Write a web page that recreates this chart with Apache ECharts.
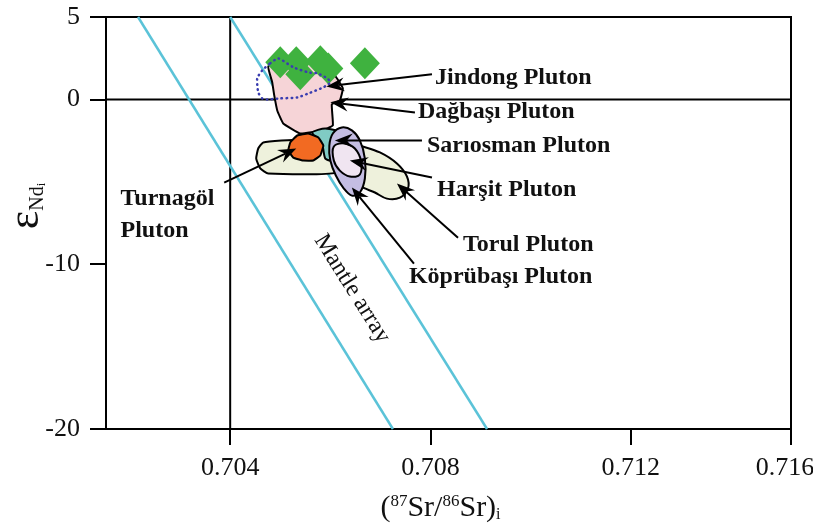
<!DOCTYPE html>
<html><head><meta charset="utf-8">
<script src="https://cdn.jsdelivr.net/npm/echarts@6.0.0/dist/echarts.min.js"></script>
<style>html,body{margin:0;padding:0;background:#fff}#chart{width:813px;height:532px}</style>
</head><body><div id="chart"></div>
<script>
const FONT = '"Liberation Serif","Times New Roman",serif';

// Axis ticks
const xTicks = [0.704, 0.708, 0.712, 0.716];
const yTicks = [5, 0, -10, -20];
const xMin = 0.70152, xMax = 0.716;

// Mantle array boundaries [87Sr/86Sr, eNd]
const mantleLow = [[0.70216, 5], [0.70725, -20]];
const mantleHigh = [[0.70400, 5], [0.70913, -20]];

// Jindong Pluton samples
const jindongSr = [0.70500, 0.70532, 0.70540, 0.70580, 0.70596, 0.70669];
const jindongNd = [2.25, 2.25, 1.52, 2.31, 1.88, 2.19];

// Pluton fields (outlines in 87Sr/86Sr, eNd)
const harsitBar = [[0.70456,-2.98],[0.70466,-2.61],[0.70540,-2.43],[0.70584,-2.49],[0.70611,-2.98],[0.70611,-4.44],[0.70476,-4.50],[0.70460,-4.19],[0.70452,-3.59]];
const harsitLobe = [[0.70629,-2.49],[0.70659,-2.80],[0.70699,-3.22],[0.70733,-3.89],[0.70753,-4.68],[0.70755,-5.41],[0.70739,-5.96],[0.70713,-6.02],[0.70689,-5.65],[0.70659,-5.23],[0.70635,-4.32]];
const dagbasiField = [[0.70476,2.01],[0.70520,2.49],[0.70576,2.25],[0.70609,1.46],[0.70625,0.67],[0.70619,-0.06],[0.70603,-0.30],[0.70605,-1.58],[0.70584,-1.88],[0.70540,-2.07],[0.70506,-1.46],[0.70494,-0.67],[0.70488,0.24],[0.70484,1.03]];
const sariosmanField = [[0.70564,-2.01],[0.70590,-1.76],[0.70629,-2.07],[0.70655,-3.10],[0.70669,-4.62],[0.70643,-4.80],[0.70609,-3.83],[0.70590,-3.59],[0.70584,-2.80]];
const turnagolField = [[0.70520,-2.61],[0.70534,-2.19],[0.70556,-2.07],[0.70576,-2.31],[0.70586,-2.80],[0.70580,-3.40],[0.70566,-3.71],[0.70546,-3.71],[0.70526,-3.53],[0.70516,-3.10]];
const koprubasiField = [[0.70605,-2.07],[0.70623,-1.70],[0.70643,-1.88],[0.70659,-2.49],[0.70669,-3.59],[0.70669,-4.80],[0.70659,-5.65],[0.70643,-5.84],[0.70627,-5.41],[0.70611,-4.62],[0.70600,-3.71],[0.70598,-2.80]];
const torulField = [[0.70607,-2.86],[0.70629,-2.67],[0.70649,-2.98],[0.70661,-3.71],[0.70659,-4.56],[0.70639,-4.68],[0.70619,-4.32],[0.70607,-3.71]];
const jindongField = [[0.70480,2.19],[0.70496,2.49],[0.70526,1.95],[0.70556,1.64],[0.70574,1.58],[0.70594,1.28],[0.70600,1.03],[0.70586,0.73],[0.70556,0.36],[0.70534,0.12],[0.70500,0.06],[0.70474,0.00],[0.70464,0.06],[0.70456,0.43],[0.70454,1.28],[0.70464,1.76]];

// Labels and their leader arrows: [fromX, fromY, toX, toY]
const labelNames = ['Jindong Pluton', 'Dağbaşı Pluton', 'Sarıosman Pluton', 'Harşit Pluton', 'Torul Pluton', 'Köprübaşı Pluton', 'Turnagöl\nPluton'];
const labelAt = [[0.70809,1.34],[0.70775,-0.73],[0.70793,-2.80],[0.70813,-5.47],[0.70865,-8.81],[0.70757,-10.76],[0.70181,-6.99]];
const arrows = [
  [0.70803,1.52,0.70592,0.79],
  [0.70769,-0.79,0.70600,-0.18],
  [0.70783,-2.49,0.70609,-2.49],
  [0.70803,-4.74,0.70639,-3.71],
  [0.70855,-8.39,0.70733,-5.11],
  [0.70767,-9.97,0.70643,-5.35],
  [0.70388,-5.05,0.70532,-2.98]
];
const mantleLabel = 'Mantle array';
const mantleLabelAt = [0.706434, -11.49];

function field(name, pts, fill, opts) {
  opts = opts || {};
  return {
    type: 'custom', name: name, coordinateSystem: 'cartesian2d', silent: true,
    z: opts.z || 3,
    data: [pts[0]],
    renderItem: function (params, api) {
      return {
        type: 'polygon',
        shape: { points: pts.map(function (p) { return api.coord(p); }), smooth: opts.smooth || 0 },
        style: {
          fill: fill,
          stroke: opts.stroke || '#000',
          lineWidth: opts.lineWidth || 2,
          lineDash: opts.dash || null,
          lineCap: opts.dash ? 'round' : 'butt'
        }
      };
    }
  };
}

const chart = echarts.init(document.getElementById('chart'));
chart.setOption({
  animation: false,
  backgroundColor: '#fff',
  grid: {
    left: 106, right: 22, top: 17, bottom: 103,
    outerBoundsMode: 'none', containLabel: false,
    show: true, borderColor: '#000', borderWidth: 2, backgroundColor: 'transparent'
  },
  xAxis: {
    type: 'value', min: xMin, max: xMax,
    breaks: [{ start: 0.7132, end: 0.7140, gap: 0 }],
    breakArea: { show: false },
    axisLine: { show: true, onZero: false, lineStyle: { color: '#000', width: 2 } },
    axisTick: { show: true, inside: false, length: 16, lineStyle: { color: '#000', width: 2 }, customValues: xTicks },
    axisLabel: {
      customValues: xTicks, margin: 26, color: '#111', fontSize: 26, fontFamily: FONT,
      formatter: function (v) {
        const s = v.toFixed(3);
        return v >= xMax - 1e-6 ? '{end|' + s + '}' : s;
      },
      rich: { end: { fontSize: 26, fontFamily: FONT, color: '#111', padding: [0, 12, 0, 0] } }
    },
    splitLine: { show: false },
    name: '{p|(}{sup|87}{p|Sr/}{sup|86}{p|Sr)}{sub|i}',
    nameLocation: 'middle', nameGap: 64, nameMoveOverlap: false,
    nameTextStyle: {
      padding: [0, 16, 0, 0],
      rich: {
        p: { fontSize: 30, fontFamily: FONT, color: '#111' },
        sup: { fontSize: 17, fontFamily: FONT, color: '#111', verticalAlign: 'top' },
        sub: { fontSize: 16, fontFamily: FONT, color: '#111', verticalAlign: 'bottom' }
      }
    }
  },
  yAxis: {
    type: 'value', min: -20, max: 5,
    axisLine: { show: true, onZero: false, lineStyle: { color: '#000', width: 2 } },
    axisTick: { show: true, inside: false, length: 16, lineStyle: { color: '#000', width: 2 }, customValues: yTicks },
    axisLabel: { customValues: yTicks, margin: 26, color: '#111', fontSize: 26, fontFamily: FONT },
    splitLine: { show: false },
    name: '{e|ε}{n|Nd}{i|i}',
    nameLocation: 'middle', nameGap: 58, nameMoveOverlap: false,
    nameTextStyle: {
      padding: [0, 0, 0, 34],
      rich: {
        e: { fontSize: 44, fontFamily: FONT, color: '#111' },
        n: { fontSize: 20, fontFamily: FONT, color: '#111', verticalAlign: 'bottom' },
        i: { fontSize: 13, fontFamily: FONT, color: '#111', verticalAlign: 'bottom' }
      }
    }
  },
  series: [
    {
      type: 'line', name: 'ref-x', data: [[0.704, -20], [0.704, 5]], symbol: 'none', z: 1,
      lineStyle: { color: '#000', width: 2 }, silent: true
    },
    {
      type: 'line', name: 'ref-y', data: [[xMin, 0], [xMax, 0]], symbol: 'none', z: 1,
      lineStyle: { color: '#000', width: 2 }, silent: true
    },
    {
      type: 'line', name: 'mantle-low', data: mantleLow, symbol: 'none', z: 2,
      lineStyle: { color: '#5bc3d8', width: 2.5 }, silent: true
    },
    {
      type: 'line', name: 'mantle-high', data: mantleHigh, symbol: 'none', z: 2,
      lineStyle: { color: '#5bc3d8', width: 2.5 }, silent: true
    },
    field('Harşit', harsitBar, '#eef1dc', { z: 3, smooth: 0.15 }),
    field('Harşit lobe', harsitLobe, '#eef1dc', { z: 3, smooth: 0.35 }),
    field('Dağbaşı', dagbasiField, '#f6d4d7', { z: 4, smooth: 0.1 }),
    field('Sarıosman', sariosmanField, '#80cbc4', { z: 5, smooth: 0.2 }),
    field('Turnagöl', turnagolField, '#f26a22', { z: 6, smooth: 0.1 }),
    field('Köprübaşı', koprubasiField, '#c4bde2', { z: 7, smooth: 0.35 }),
    field('Torul', torulField, '#f0e5f1', { z: 8, smooth: 0.35 }),
    {
      type: 'scatter', name: 'Jindong', z: 9, silent: true,
      data: jindongSr.map(function (x, i) { return [x, jindongNd[i]]; }),
      symbol: 'diamond', symbolSize: [30, 32],
      itemStyle: { color: '#3fb23f', opacity: 1 }
    },
    field('Jindong field', jindongField, 'none', { z: 10, stroke: '#3a3db0', lineWidth: 2.5, dash: [0.5, 4.5], smooth: 0.2 }),
    {
      type: 'custom', name: 'arrows', z: 11, silent: true,
      data: arrows, encode: { x: [0, 2], y: [1, 3] },
      renderItem: function (params, api) {
        const a = api.coord([api.value(0), api.value(1)]);
        const b = api.coord([api.value(2), api.value(3)]);
        const dx = b[0] - a[0], dy = b[1] - a[1];
        const len = Math.hypot(dx, dy), ux = dx / len, uy = dy / len;
        const L = 18, W = 7, N = 6;
        const bx = b[0] - ux * L, by = b[1] - uy * L;
        const nx = b[0] - ux * (L - N), ny = b[1] - uy * (L - N);
        return {
          type: 'group',
          children: [
            { type: 'line', shape: { x1: a[0], y1: a[1], x2: nx, y2: ny }, style: { stroke: '#000', lineWidth: 2 } },
            { type: 'polygon', shape: { points: [[b[0], b[1]], [bx - uy * W, by + ux * W], [nx, ny], [bx + uy * W, by - ux * W]] }, style: { fill: '#000' } }
          ]
        };
      }
    },
    {
      type: 'custom', name: 'labels', z: 12, silent: true,
      data: labelAt,
      renderItem: function (params, api) {
        const p = api.coord([api.value(0), api.value(1)]);
        return {
          type: 'text', x: p[0], y: p[1],
          style: {
            text: labelNames[params.dataIndex], fill: '#111',
            fontFamily: FONT, fontSize: 24, fontWeight: 'bold', lineHeight: 32,
            align: 'left', verticalAlign: 'middle'
          }
        };
      }
    },
    {
      type: 'custom', name: 'mantle-label', z: 12, silent: true,
      data: [mantleLabelAt],
      renderItem: function (params, api) {
        const p = api.coord([api.value(0), api.value(1)]);
        return {
          type: 'text', x: p[0], y: p[1], rotation: -58 * Math.PI / 180,
          style: {
            text: mantleLabel, fill: '#111', fontFamily: FONT, fontSize: 24,
            align: 'center', verticalAlign: 'middle'
          }
        };
      }
    }
  ]
});
</script></body></html>
